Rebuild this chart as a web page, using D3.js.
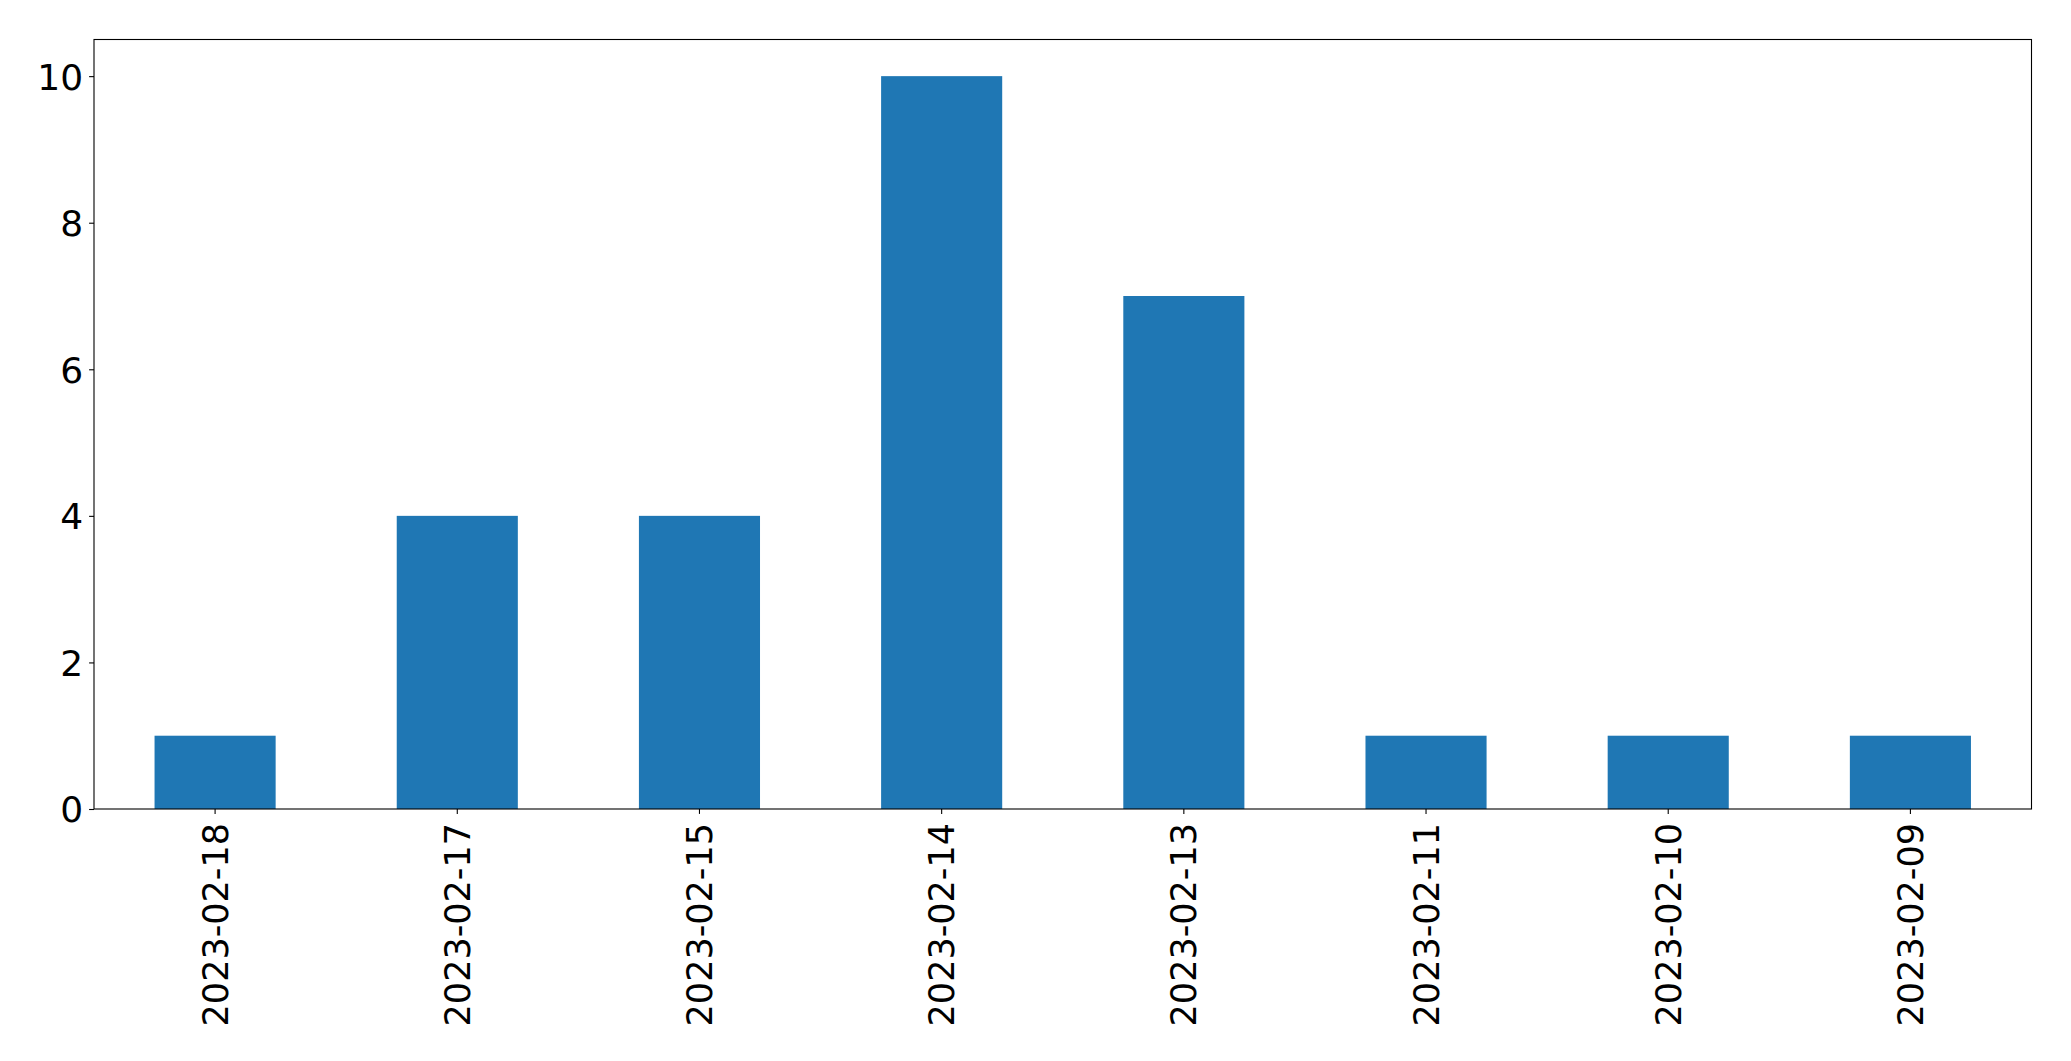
<!DOCTYPE html>
<html>
<head>
<meta charset="utf-8">
<script src="https://cdn.jsdelivr.net/npm/d3@7"></script>
<style>
  html, body { margin: 0; padding: 0; background: #fff; }
  svg { display: block; }
  text { font-family: "DejaVu Sans", sans-serif; fill: #000; }
</style>
</head>
<body>
<svg id="chart" width="2071" height="1061"></svg>
<script>
const categories = ["2023-02-18","2023-02-17","2023-02-15","2023-02-14","2023-02-13","2023-02-11","2023-02-10","2023-02-09"];
const values = [1, 4, 4, 10, 7, 1, 1, 1];
const yTicks = [0, 2, 4, 6, 8, 10];

const W = 2071, H = 1061;
const margin = {left: 94, right: 2071 - 2031.5, top: 39.5, bottom: 1061 - 809};
const svg = d3.select("#chart");

const x = d3.scaleBand()
  .domain(categories)
  .range([margin.left, W - margin.right])
  .paddingInner(0.5)
  .paddingOuter(0.25);

const y = d3.scaleLinear()
  .domain([0, 10.5])
  .range([H - margin.bottom, margin.top]);

const fontSize = 35;
const tickLen = 4.9;

// bars
svg.append("g").selectAll("rect")
  .data(values)
  .join("rect")
  .attr("x", (d, i) => x(categories[i]))
  .attr("y", d => y(d))
  .attr("width", x.bandwidth())
  .attr("height", d => y(0) - y(d))
  .attr("fill", "#1f77b4");

// y axis
const yAxis = d3.axisLeft(y).tickValues(yTicks).tickSize(tickLen).tickPadding(6).tickFormat(d3.format("d"));
const gy = svg.append("g").attr("transform", `translate(${margin.left},0)`).call(yAxis);
gy.select(".domain").remove();
gy.selectAll(".tick line").attr("stroke", "#000").attr("stroke-width", 1.1);
gy.selectAll(".tick text").style("font-size", "36px").style("font-family", "DejaVu Sans").attr("dy", "0.36em");

// x axis
const xAxis = d3.axisBottom(x).tickSize(tickLen).tickPadding(0);
const gx = svg.append("g").attr("transform", `translate(0,${H - margin.bottom})`).call(xAxis);
gx.select(".domain").remove();
gx.selectAll(".tick line").attr("stroke", "#000").attr("stroke-width", 1.1);
gx.selectAll(".tick text")
  .style("font-size", fontSize + "px")
  .style("font-family", "DejaVu Sans")
  .attr("text-anchor", "end")
  .attr("x", 0).attr("y", 0)
  .attr("dy", "0.36em")
  .attr("transform", "translate(0,14) rotate(-90)");

// frame
svg.append("rect")
  .attr("x", margin.left)
  .attr("y", margin.top)
  .attr("width", W - margin.right - margin.left)
  .attr("height", H - margin.bottom - margin.top)
  .attr("fill", "none")
  .attr("stroke", "#000")
  .attr("stroke-width", 1.1);
</script>
</body>
</html>
